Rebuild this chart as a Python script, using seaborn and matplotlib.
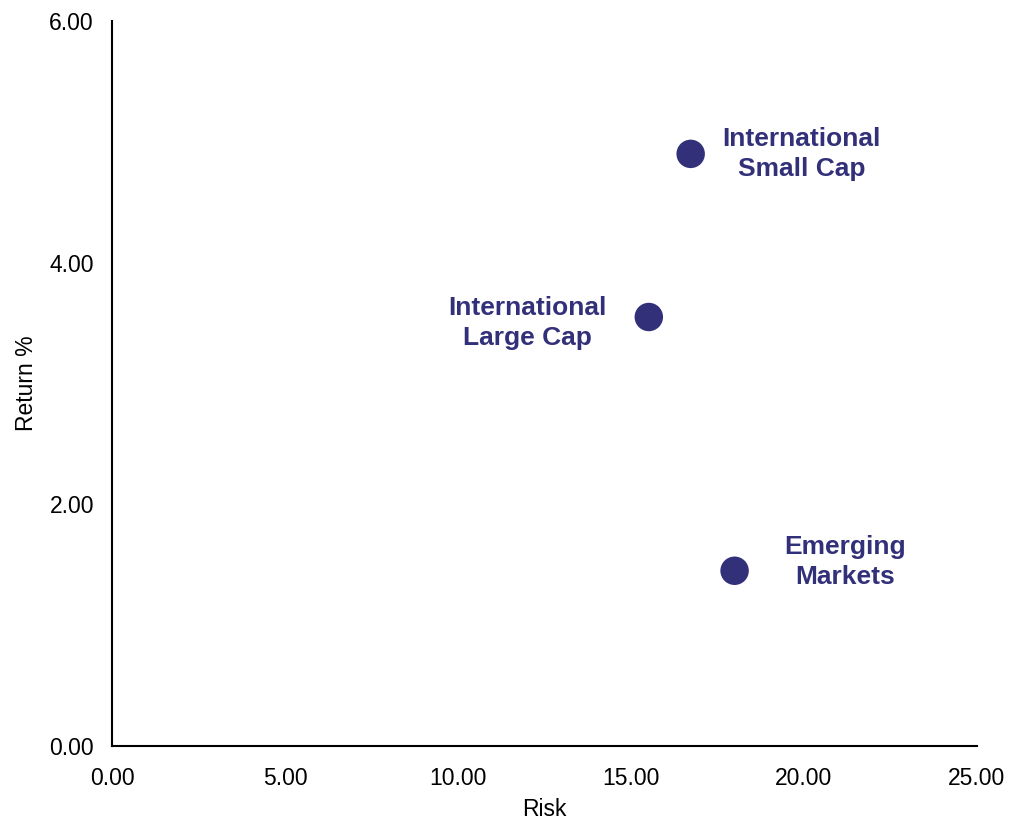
import matplotlib
matplotlib.use("Agg")
import matplotlib.pyplot as plt
import seaborn as sns
import pandas as pd

names = ["International\nSmall Cap", "International\nLarge Cap", "Emerging\nMarkets"]
risk = [16.73, 15.52, 18.0]
ret = [4.90, 3.55, 1.45]
label_dx = [3.2, -3.5, 3.2]
label_dy = [0.0, -0.05, 0.07]

sns.set_theme(style="white")
plt.rcParams['font.family'] = ['Liberation Sans', 'DejaVu Sans']

df = pd.DataFrame({"Risk": risk, "Return %": ret, "name": names})

color = "#33307A"
fig = plt.figure(figsize=(10.09, 8.22), dpi=100)
ax = fig.add_axes([0.111, 0.0925, 0.857, 0.882])
sns.scatterplot(data=df, x="Risk", y="Return %", color=color, s=420, edgecolor="none", ax=ax, zorder=3)

for x, y, n, dx, dy in zip(risk, ret, names, label_dx, label_dy):
    ax.text(x + dx, y + dy, n, ha="center", va="center", color=color,
            fontsize=19, fontweight="bold", linespacing=1.32)

ax.set_xlim(0, 25)
ax.set_ylim(0, 6)
ax.set_xticks([0, 5, 10, 15, 20, 25])
ax.set_yticks([0, 2, 4, 6])
ax.set_xticklabels([f"{v:.2f}" for v in [0, 5, 10, 15, 20, 25]])
ax.set_yticklabels([f"{v:.2f}" for v in [0, 2, 4, 6]])
ax.tick_params(axis="both", length=0, labelsize=16.5, colors="black")
ax.tick_params(axis="x", pad=15)
ax.tick_params(axis="y", pad=13)
for s in ["top", "right"]:
    ax.spines[s].set_visible(False)
for s in ["left", "bottom"]:
    ax.spines[s].set_color("black")
    ax.spines[s].set_linewidth(1.5)
ax.set_xlabel("Risk", fontsize=16.5, color="black", labelpad=6)
ax.set_ylabel("Return %", fontsize=16.5, color="black", labelpad=8)
fig.savefig("out.png", dpi=100)
